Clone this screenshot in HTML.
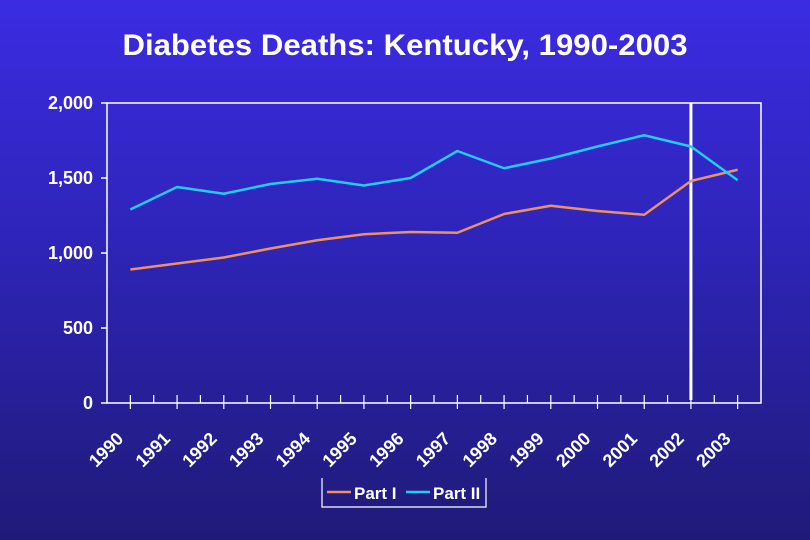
<!DOCTYPE html>
<html><head><meta charset="utf-8"><style>
html,body{margin:0;padding:0;width:810px;height:540px;overflow:hidden;}
body{background:linear-gradient(#3b2ce2 0%,#2e24b8 45%,#1f1a78 100%);font-family:"Liberation Sans",Arial,sans-serif;}
</style></head><body>
<svg id="chart" width="810" height="540" xmlns="http://www.w3.org/2000/svg" font-family="Liberation Sans, Arial, sans-serif">
<text x="405" y="55" fill="#fff" font-size="30" font-weight="bold" text-anchor="middle" textLength="565" lengthAdjust="spacingAndGlyphs">Diabetes Deaths: Kentucky, 1990-2003</text>
<g id="plot"></g>
</svg>
<script>
const years=["1990","1991","1992","1993","1994","1995","1996","1997","1998","1999","2000","2001","2002","2003"];
const partI=[890,930,970,1030,1085,1125,1140,1135,1260,1315,1280,1255,1480,1555];
const partII=[1290,1440,1395,1460,1495,1450,1500,1680,1565,1630,1710,1785,1710,1485];
const yTicks=[0,500,1000,1500,2000];
const yTickLabels=["0","500","1,000","1,500","2,000"];
const markerYear="2002";

const L=107,R=761,T=103,B=403,ymax=2000;
const step=(R-L)/years.length;
const xs=i=>L+step*(i+0.5);
const ys=v=>B-(v/ymax)*(B-T);
const g=document.getElementById('plot');
const NS="http://www.w3.org/2000/svg";
function mk(tag,attrs){const e=document.createElementNS(NS,tag);for(const k in attrs)e.setAttribute(k,attrs[k]);g.appendChild(e);return e;}

let box=mk('rect',{x:L,y:T,width:R-L,height:B-T,fill:'none',stroke:'#fff','stroke-width':1.5});



yTicks.forEach((v,i)=>{
 let t=mk('line',{x1:L-6,x2:L,y1:ys(v),y2:ys(v),stroke:'#fff','stroke-width':1.5});
 
 
 let tx=mk('text',{x:L-14,y:ys(v)+6,fill:'#fff','font-size':18,'font-weight':'bold','text-anchor':'end'});
 tx.textContent=yTickLabels[i];
 
 
});
for(let k=1;k<years.length*2;k++){
 const x=L+step*k/2;
 const major=k%2===1;
 let t=mk('line',{x1:x,x2:x,y1:major?B+6:B,y2:B-8,stroke:'#fff','stroke-width':1.2});
 
 
}
years.forEach((yr,i)=>{
 const x=xs(i)-20,y=B+51;
 let tx=mk('text',{x:x,y:y,fill:'#fff','font-size':18,'font-weight':'bold','text-anchor':'middle',transform:`rotate(-45 ${x} ${y})`});
 tx.textContent=yr;
 
 
});
const mi=years.indexOf(markerYear);
let ml=mk('line',{x1:xs(mi),x2:xs(mi),y1:T,y2:B-3,stroke:'#fff','stroke-width':3});



function series(vals,color,name){
 const p=mk('polyline',{points:vals.map((v,i)=>xs(i)+','+ys(v)).join(' '),fill:'none',stroke:color,'stroke-width':2.5,'stroke-linejoin':'round'});
 
 
}
series(partI,'#ee9060','series-part-i');
series(partII,'#22ccf2','series-part-ii');

let lb=mk('path',{d:'M322,478 V507 H486 V478',fill:'none',stroke:'#fff','stroke-width':1.2});


[['Part I','#ee9060',327],['Part II','#22ccf2',406]].forEach(([lab,c,x])=>{
 let l=mk('line',{x1:x,x2:x+24,y1:492,y2:492,stroke:c,'stroke-width':2.5});
 
 
 let t=mk('text',{x:x+27,y:499,fill:'#fff','font-size':17,'font-weight':'bold'});
 t.textContent=lab;
 
 
});
</script>
</body></html>
